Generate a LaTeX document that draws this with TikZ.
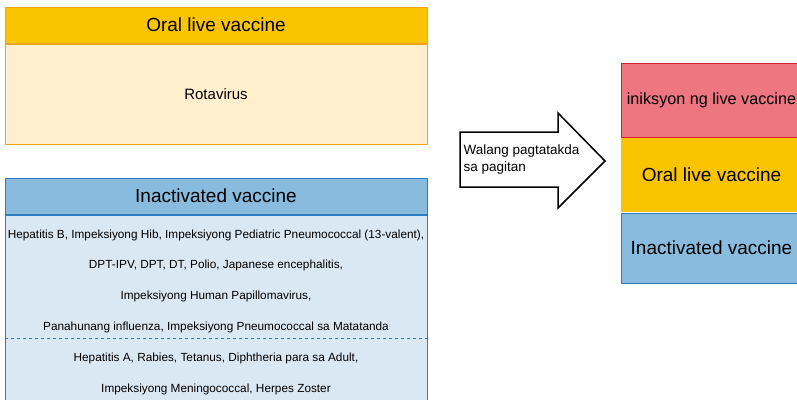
\documentclass[tikz,border=0pt]{standalone}
\usepackage{fontspec}
\setmainfont{Liberation Sans}
\usetikzlibrary{positioning}
\definecolor{oralfill}{HTML}{FBC400}
\definecolor{oralline}{HTML}{EFA31B}
\definecolor{oralbg}{HTML}{FFEFCC}
\definecolor{inactfill}{HTML}{88BBDD}
\definecolor{inactbg}{HTML}{DAE8F4}
\definecolor{inactline}{HTML}{2F7BBF}
\definecolor{injfill}{HTML}{ED7680}
\definecolor{injline}{HTML}{D0202E}

\begin{document}
\begin{tikzpicture}[x=1pt,y=-1pt,line width=1pt,
	head/.style={rectangle,minimum width=422pt,minimum height=36pt,inner sep=0pt,font=\fontsize{19}{22}\selectfont},
	body/.style={rectangle,minimum width=422pt,inner sep=0pt},
	listtext/.style={align=center,font=\fontsize{11.8}{30.7}\selectfont},
	stack/.style={rectangle,minimum width=181pt,inner sep=0pt,font=\fontsize{19}{22}\selectfont}]
	\useasboundingbox (0,0) rectangle (797,399);
	
	% oral live vaccine
	\node[head,fill=oralfill,draw=oralline]              (oralhead) at (216,25)  {Oral live vaccine};
	\node[body,fill=oralbg,draw=oralline,minimum height=100pt,font=\fontsize{15}{18}\selectfont]
	                                                     (oralbody) [below=0pt of oralhead] {Rotavirus};
	
	% inactivated vaccine
	\node[head,fill=inactfill,draw=inactline]            (inacthead) at (216,196) {Inactivated vaccine};
	\node[body,fill=inactbg,draw=inactline,minimum height=195pt]
	                                                     (inactbody) [below=0pt of inacthead] {};
	\node[listtext] (grpa) at (216,281) {Hepatitis B, Impeksiyong Hib, Impeksiyong Pediatric Pneumococcal (13-valent),\\
		DPT-IPV, DPT, DT, Polio, Japanese encephalitis,\\
		Impeksiyong Human Papillomavirus,\\
		Panahunang influenza, Impeksiyong Pneumococcal sa Matatanda};
	\node[listtext] (grpb) at (216,374) {Hepatitis A, Rabies, Tetanus, Diphtheria para sa Adult,\\
		Impeksiyong Meningococcal, Herpes Zoster};
	\coordinate (sep) at (0,338);
	\draw[inactline,dashed,thin] (inactbody.west |- sep) -- (inactbody.east |- sep);
	
	% arrow
	\draw[line width=1.5pt,fill=white] (460,132) -- (558,132) -- (558,113) -- (605,161) -- (558,208) -- (558,187) -- (460,187) -- cycle;
	\node[align=left,anchor=west,inner sep=0pt,font=\fontsize{13.5}{17}\selectfont] (gap) at (463,160) {Walang pagtatakda\\sa pagitan};
	
	% right stack
	\node[stack,fill=injfill,draw=injline,minimum height=74pt,font=\fontsize{16.2}{20}\selectfont] (inj) at (711.5,100) {iniksyon ng live vaccine};
	\node[stack,fill=oralfill,minimum height=74pt]        (oral) [below=0pt of inj]  {Oral live vaccine};
	\node[stack,fill=inactfill,draw=inactline,minimum height=70pt] (inact) [below=0pt of oral] {Inactivated vaccine};
\end{tikzpicture}
\end{document}
